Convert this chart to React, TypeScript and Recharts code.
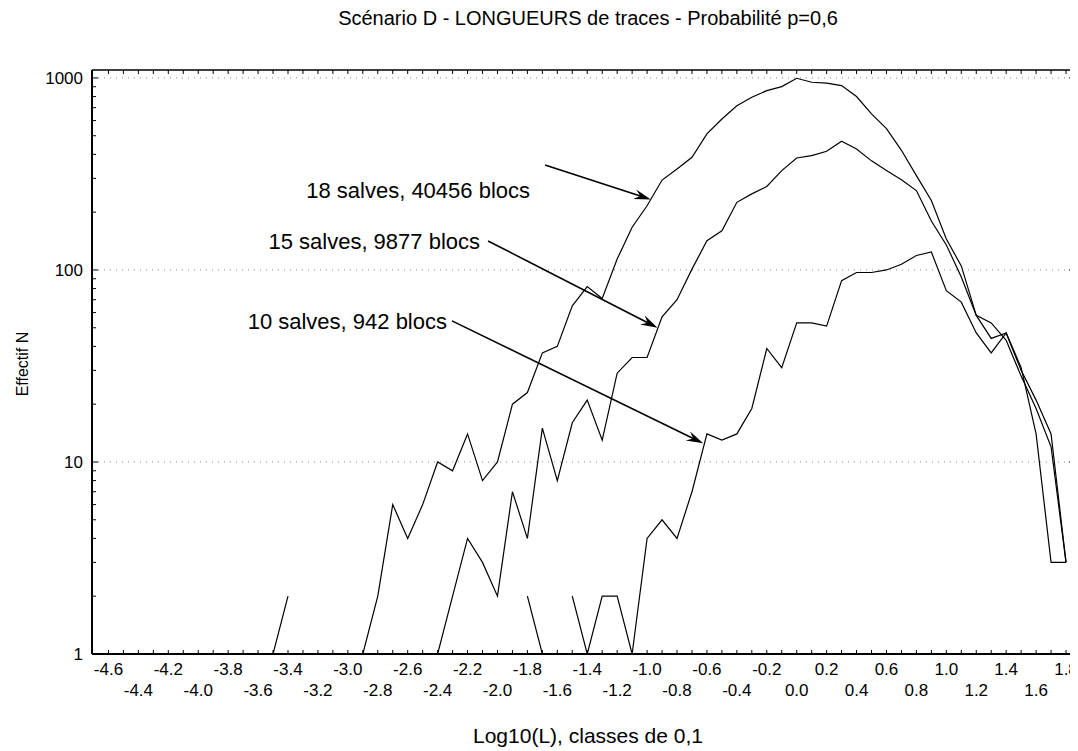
import React from 'react';
import { LineChart, Line, XAxis, YAxis, ReferenceLine } from 'recharts';

const FONT = '"Liberation Sans", Arial, Helvetica, sans-serif';

const TITLE = 'Scénario D - LONGUEURS de traces - Probabilité p=0,6';
const X_LABEL = 'Log10(L), classes de 0,1';
const Y_LABEL = 'Effectif N';

const classes = [
  -3.5, -3.4, -3.3, -3.2, -3.1, -3.0, -2.9, -2.8, -2.7, -2.6,
  -2.5, -2.4, -2.3, -2.2, -2.1, -2.0, -1.9, -1.8, -1.7, -1.6,
  -1.5, -1.4, -1.3, -1.2, -1.1, -1.0, -0.9, -0.8, -0.7, -0.6,
  -0.5, -0.4, -0.3, -0.2, -0.1, 0.0, 0.1, 0.2, 0.3, 0.4,
  0.5, 0.6, 0.7, 0.8, 0.9, 1.0, 1.1, 1.2, 1.3, 1.4,
  1.5, 1.6, 1.7, 1.8,
];

// 18 salves, 40456 blocs
const s18 = [
  1, 2, null, null, null, null, 1, 2, 6, 4,
  6, 10, 9, 14, 8, 10, 20, 23, 37, 40,
  65, 82, 71, 114, 167, 216, 294, 336, 386, 511,
  611, 717, 793, 859, 901, 996, 950, 940, 912, 800,
  650, 545, 420, 310, 230, 145, 105, 58, 53, 43,
  28, 19, 12, 3,
];

// 15 salves, 9877 blocs
const s15 = [
  null, null, null, null, null, null, null, null, null, null,
  null, 1, 2, 4, 3, 2, 7, 4, 15, 8,
  16, 21, 13, 29, 35, 35, 57, 70, 101, 142,
  160, 225, 249, 272, 329, 383, 394, 415, 468, 427,
  370, 330, 295, 259, 180, 135, 92, 58, 44, 47,
  30, 21, 14, 3,
];

// 10 salves, 942 blocs
const s10 = [
  null, null, null, null, null, null, null, null, null, null,
  null, null, null, null, null, null, null, 2, 1, null,
  2, 1, 2, 2, 1, 4, 5, 4, 7, 14,
  13, 14, 19, 39, 31, 53, 53, 51, 88, 97,
  97, 100, 107, 119, 124, 78, 68, 47, 37, 47,
  31, 14, 3, 3,
];

const X_DOMAIN = [-4.71, 1.86];
const Y_DOMAIN = [1, 1100];
const PLOT_TOP = 62;
const PLOT_RIGHT = 1067;

const xTicks = Array.from({ length: 65 }, (_, i) => (i - 46) / 10);
const yTicks = [
  1, 2, 3, 4, 5, 6, 7, 8, 9,
  10, 20, 30, 40, 50, 60, 70, 80, 90,
  100, 200, 300, 400, 500, 600, 700, 800, 900,
  1000,
];
const yLabels = [1, 10, 100, 1000];
const gridValues = [10, 100, 1000];

const annLabels = ['18 salves, 40456 blocs', '15 salves, 9877 blocs', '10 salves, 942 blocs'];
const annFromX = [-1.682, -2.063, -2.304];
const annFromY = [352, 141.6, 54.3];
const annToX = [-0.975, -0.93, -0.625];
const annToY = [233, 50, 12.5];
const annTextDx = [-15, -8, -5];
const annTextDy = [25, 0, 0];

const data = classes.map((x, i) => ({ x, s18: s18[i], s15: s15[i], s10: s10[i] }));

const BottomTick = (props: any) => {
  const { x, y, payload } = props;
  const k = Math.round(payload.value * 10);
  const isLabel = (k + 46) % 2 === 0;
  const row = ((k + 46) / 2) % 2 === 0 ? 0 : 1;
  const txt = (k / 10).toFixed(1);
  return (
    <g>
      <line x1={x} y1={y} x2={x} y2={y - 4} stroke="#000" strokeWidth={1} />
      <line x1={x} y1={PLOT_TOP} x2={x} y2={PLOT_TOP + 4} stroke="#000" strokeWidth={1} />
      {isLabel && (
        <text x={x} y={y + (row === 0 ? 21 : 42)} textAnchor="middle" fontSize={17} fontFamily={FONT} fill="#000">
          {txt}
        </text>
      )}
    </g>
  );
};

const LeftTick = (props: any) => {
  const { x, y, payload } = props;
  const v = payload.value;
  const major = yLabels.includes(v);
  const len = major ? 6 : 4;
  return (
    <g>
      <line x1={x} y1={y} x2={x + len} y2={y} stroke="#000" strokeWidth={1} />
      <line x1={PLOT_RIGHT} y1={y} x2={PLOT_RIGHT - len} y2={y} stroke="#000" strokeWidth={1} />
      {major && (
        <text x={x - 9} y={y + 6} textAnchor="end" fontSize={17} fontFamily={FONT} fill="#000">
          {v}
        </text>
      )}
    </g>
  );
};

const makeArrow = (label: string, textDx: number, textDy: number) => (props: any) => {
  const { x1, y1, x2, y2 } = props;
  const dx = x2 - x1;
  const dy = y2 - y1;
  const len = Math.hypot(dx, dy) || 1;
  const ux = dx / len;
  const uy = dy / len;
  const nx = -uy;
  const ny = ux;
  const hl = 17;
  const hw = 5;
  const bx = x2 - ux * hl;
  const by = y2 - uy * hl;
  const mx = x2 - ux * hl * 0.65;
  const my = y2 - uy * hl * 0.65;
  return (
    <g>
      <line x1={x1} y1={y1} x2={mx} y2={my} stroke="#000" strokeWidth={1.6} />
      <polygon
        points={`${x2},${y2} ${bx + nx * hw},${by + ny * hw} ${mx},${my} ${bx - nx * hw},${by - ny * hw}`}
        fill="#000"
      />
      <text x={x1 + textDx} y={y1 + 8 + textDy} textAnchor="end" fontSize={22} fontFamily={FONT} fill="#000">
        {label}
      </text>
    </g>
  );
};

const Titles = () => (
  <g>
    <text x={580} y={17} textAnchor="middle" fontSize={20} fontFamily={FONT} fill="#000">
      {TITLE}
    </text>
    <text x={580} y={735} textAnchor="middle" fontSize={21} fontFamily={FONT} fill="#000">
      {X_LABEL}
    </text>
  </g>
);

export default function App() {
  return (
    <div style={{ width: 1070, height: 740, background: '#fff' }}>
      <LineChart width={1070} height={740} data={data} margin={{ top: PLOT_TOP, right: 3, left: 0, bottom: 0 }}>
        <XAxis
          dataKey="x"
          type="number"
          domain={X_DOMAIN}
          allowDataOverflow
          ticks={xTicks}
          interval={0}
          tickSize={0}
          tickMargin={0}
          tick={<BottomTick />}
          height={94}
          axisLine={{ stroke: '#000', strokeWidth: 2 }}
          tickLine={false}
          label={{ content: () => <Titles /> }}
        />
        <YAxis
          type="number"
          scale="log"
          domain={Y_DOMAIN}
          allowDataOverflow
          ticks={yTicks}
          interval={0}
          tickSize={0}
          tickMargin={0}
          tick={<LeftTick />}
          width={84}
          axisLine={{ stroke: '#000', strokeWidth: 2 }}
          tickLine={false}
          label={{
            content: () => (
              <text
                x={20}
                y={356}
                transform="rotate(-90 20 356)"
                textAnchor="middle"
                fontSize={16}
                fontFamily={FONT}
                fill="#000"
              >
                {Y_LABEL}
              </text>
            ),
          }}
        />
        {gridValues.map((g) => (
          <ReferenceLine key={g} y={g} stroke="#888" strokeDasharray="1 5" strokeWidth={1} />
        ))}
        <ReferenceLine y={Y_DOMAIN[1]} stroke="#000" strokeWidth={1.5} ifOverflow="visible" />
        <ReferenceLine x={X_DOMAIN[1]} stroke="#000" strokeWidth={1.5} ifOverflow="visible" />
        <Line dataKey="s18" stroke="#000" strokeWidth={1.2} dot={false} isAnimationActive={false} connectNulls={false} />
        <Line dataKey="s15" stroke="#000" strokeWidth={1.2} dot={false} isAnimationActive={false} connectNulls={false} />
        <Line dataKey="s10" stroke="#000" strokeWidth={1.2} dot={false} isAnimationActive={false} connectNulls={false} />
        {annLabels.map((lab, i) => (
          <ReferenceLine
            key={lab}
            ifOverflow="visible"
            segment={[
              { x: annFromX[i], y: annFromY[i] },
              { x: annToX[i], y: annToY[i] },
            ]}
            shape={makeArrow(lab, annTextDx[i], annTextDy[i])}
          />
        ))}
      </LineChart>
    </div>
  );
}
